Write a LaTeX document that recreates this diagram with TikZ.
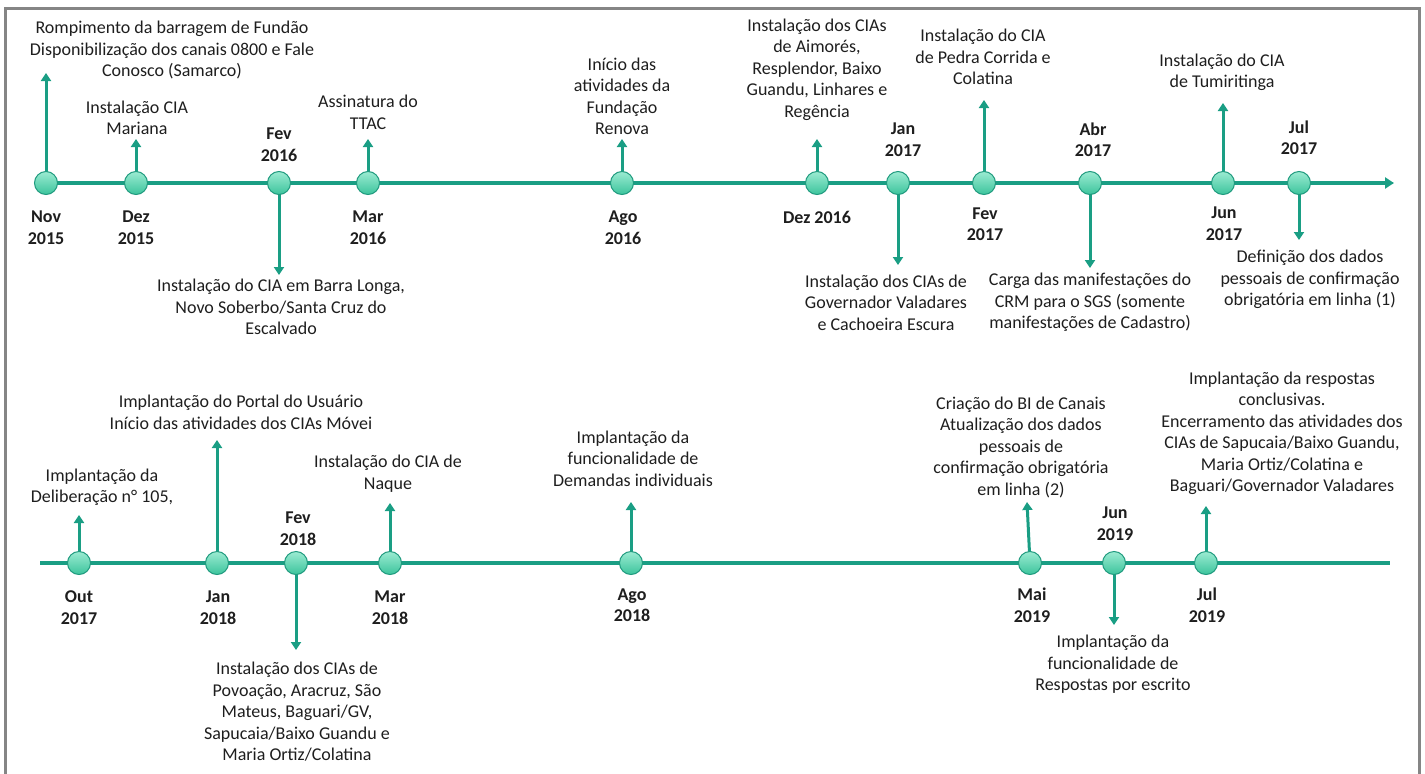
\documentclass[tikz,border=0pt]{standalone}
\usepackage{fontspec}
\setmainfont{Carlito}
\usetikzlibrary{arrows.meta}
\definecolor{teal1}{HTML}{1A9E84}
\definecolor{mintT}{HTML}{9BEBD2}
\definecolor{mintB}{HTML}{3CC49C}
\definecolor{ringc}{HTML}{1F9A7E}
\definecolor{txtc}{HTML}{1E1E1E}
\definecolor{framec}{HTML}{858585}
\pgfdeclarelayer{bg}
\pgfsetlayers{bg,main}
\tikzset{
  txt/.style={align=center, font=\fontsize{18}{21.5}\selectfont, text=txtc, inner sep=0pt},
  lbl/.style={align=center, font=\bfseries\fontsize{18}{21.5}\selectfont, text=txtc, inner sep=0pt},
  ev/.style={circle, minimum size=23pt, inner sep=0pt, top color=mintT, bottom color=mintB, draw=ringc, line width=1pt},
  tline/.style={draw=teal1, line width=3.6pt},
  arr/.style={draw=teal1, line width=3pt, -{Triangle[width=10pt,length=8pt]}}
}
\begin{document}
\begin{tikzpicture}[x=1pt,y=-1pt]
\useasboundingbox (0,0) rectangle (1425,774);
\draw[framec, line width=3pt] (5.5,774) -- (5.5,8.5) -- (1419.5,8.5) -- (1419.5,774);

% ---------- top row ----------
\coordinate (ts) at (38,183);
\coordinate (te) at (1394,183);
\node[ev] (c1) at (46,183) {};
\node[ev] (c2) at (136,183) {};
\node[ev] (c3) at (279,183) {};
\node[ev] (c4) at (368,183) {};
\node[ev] (c5) at (622,183) {};
\node[ev] (c6) at (817,183) {};
\node[ev] (c7) at (898,183) {};
\node[ev] (c8) at (984,183) {};
\node[ev] (c9) at (1090,183) {};
\node[ev] (c10) at (1223,183) {};
\node[ev] (c11) at (1299,183) {};

\coordinate (a1) at (46,73);
\coordinate (a2) at (136,139);
\coordinate (a3) at (279,275);
\coordinate (a4) at (368,139);
\coordinate (a5) at (622,139);
\coordinate (a6) at (817,139);
\coordinate (a7) at (898,265);
\coordinate (a8) at (984,100);
\coordinate (a9) at (1090,268);
\coordinate (a10) at (1223,103);
\coordinate (a11) at (1299,240);

\node[txt] (t1) at (172,50) {Rompimento da barragem de Fundão\\Disponibilização dos canais 0800 e Fale\\Conosco (Samarco)};
\node[txt] (t2) at (137,118) {Instalação CIA\\Mariana};
\node[txt] (t3) at (281,307) {Instalação do CIA em Barra Longa,\\Novo Soberbo/Santa Cruz do\\Escalvado};
\node[txt] (t4) at (368,112.5) {Assinatura do\\TTAC};
\node[txt] (t5) at (622,96.5) {Início das\\atividades da\\Fundação\\Renova};
\node[txt] (t6) at (817,69.5) {Instalação dos CIAs\\de Aimorés,\\Resplendor, Baixo\\Guandu, Linhares e\\Regência};
\node[txt] (t7) at (886,302.5) {Instalação dos CIAs de\\Governador Valadares\\e Cachoeira Escura};
\node[txt] (t8) at (983,57) {Instalação do CIA\\de Pedra Corrida e\\Colatina};
\node[txt] (t9) at (1090,302.5) {Carga das manifestações do\\CRM para o SGS (somente\\manifestações de Cadastro)};
\node[txt] (t10) at (1222,72.5) {Instalação do CIA\\de Tumiritinga};
\node[txt] (t11) at (1310,279.5) {Definição dos dados\\pessoais de confirmação\\obrigatória em linha (1)};

\node[lbl] (l1) at (46,227.5) {Nov\\2015};
\node[lbl] (l2) at (136,227.5) {Dez\\2015};
\node[lbl] (l3) at (279,144.5) {Fev\\2016};
\node[lbl] (l4) at (368,227.5) {Mar\\2016};
\node[lbl] (l5) at (623,227.5) {Ago\\2016};
\node[lbl] (l6) at (817,217) {Dez 2016};
\node[lbl] (l7) at (903,139.5) {Jan\\2017};
\node[lbl] (l8) at (985,224) {Fev\\2017};
\node[lbl] (l9) at (1093,139.5) {Abr\\2017};
\node[lbl] (l10) at (1224,223.5) {Jun\\2017};
\node[lbl] (l11) at (1299,137.5) {Jul\\2017};

% ---------- bottom row ----------
\coordinate (bs) at (40,563);
\coordinate (be) at (1390,563);
\node[ev] (d1) at (79,563) {};
\node[ev] (d2) at (217,563) {};
\node[ev] (d3) at (296,563) {};
\node[ev] (d4) at (390,563) {};
\node[ev] (d5) at (631,563) {};
\node[ev] (d6) at (1030,563) {};
\node[ev] (d7) at (1114,563) {};
\node[ev] (d8) at (1206,563) {};

\coordinate (b1) at (79,515);
\coordinate (b2) at (217,440);
\coordinate (b3) at (296,650);
\coordinate (b4) at (390,503);
\coordinate (b5) at (631,502);
\coordinate (b6) at (1027,502);
\coordinate (b7) at (1114,625);
\coordinate (b8) at (1206,506);

\node[txt] (u1) at (102,487.5) {Implantação da\\Deliberação n° 105,};
\node[txt] (u2) at (241,412.5) {Implantação do Portal do Usuário\\Início das atividades dos CIAs Móvei};
\node[txt] (u3) at (297,712) {Instalação dos CIAs de\\Povoação, Aracruz, São\\Mateus, Baguari/GV,\\Sapucaia/Baixo Guandu e\\Maria Ortiz/Colatina};
\node[txt] (u4) at (388,473.5) {Instalação do CIA de\\Naque};
\node[txt] (u5) at (633,458.5) {Implantação da\\funcionalidade de\\Demandas individuais};
\node[txt] (u6) at (1021,447) {Criação do BI de Canais\\Atualização dos dados\\pessoais de\\confirmação obrigatória\\em linha (2)};
\node[txt] (u7) at (1113,664.5) {Implantação da\\funcionalidade de\\Respostas por escrito};
\node[txt] (u8) at (1282,433.5) {Implantação da respostas\\conclusivas.\\Encerramento das atividades dos\\CIAs de Sapucaia/Baixo Guandu,\\Maria Ortiz/Colatina e\\Baguari/Governador Valadares};

\node[lbl] (m1) at (79,607.5) {Out\\2017};
\node[lbl] (m2) at (218,607.5) {Jan\\2018};
\node[lbl] (m3) at (298,528.5) {Fev\\2018};
\node[lbl] (m4) at (390,607.5) {Mar\\2018};
\node[lbl] (m5) at (632,605) {Ago\\2018};
\node[lbl] (m6) at (1032,605) {Mai\\2019};
\node[lbl] (m7) at (1115,523.5) {Jun\\2019};
\node[lbl] (m8) at (1207,605) {Jul\\2019};

\begin{pgfonlayer}{bg}
\draw[tline, -{Triangle[width=11pt,length=9pt]}] (ts) -- (te);
\draw[tline] (bs) -- (be);
\foreach \c/\a in {c1/a1,c2/a2,c3/a3,c4/a4,c5/a5,c6/a6,c7/a7,c8/a8,c9/a9,c10/a10,c11/a11,
                   d1/b1,d2/b2,d3/b3,d4/b4,d5/b5,d6/b6,d7/b7,d8/b8}
  \draw[arr] (\c.center) -- (\a);
\end{pgfonlayer}
\end{tikzpicture}
\end{document}
